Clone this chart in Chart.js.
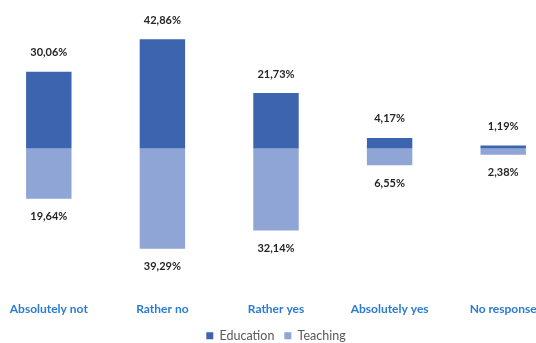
<!DOCTYPE html>
<html>
<head>
<meta charset="utf-8">
<script src="https://cdn.jsdelivr.net/npm/chart.js@4.4.1/dist/chart.umd.min.js"></script>
<style>
  html, body { margin: 0; padding: 0; background: #ffffff; overflow: hidden; }
  #wrap { position: absolute; left: -8px; top: 0; width: 568px; height: 343px; }
</style>
</head>
<body>
<div id="wrap"><canvas id="chart"></canvas></div>
<script>
// Answer categories along the horizontal axis
const categories = ['Absolutely not', 'Rather no', 'Rather yes', 'Absolutely yes', 'No response'];
// Share of respondents (%) per group
const education = [30.06, 42.86, 21.73, 4.17, 1.19];
const teaching = [19.64, 39.29, 32.14, 6.55, 2.38];

const fmt = v => v.toFixed(2).replace('.', ',') + '%';

// Education grows upward from zero, Teaching downward
const valueLabels = {
  id: 'valueLabels',
  afterDatasetsDraw(chart) {
    const ctx = chart.ctx;
    ctx.save();
    ctx.font = 'bold 11px Lato, "Open Sans", sans-serif';
    ctx.fillStyle = '#262626';
    ctx.textAlign = 'center';
    ctx.textBaseline = 'middle';
    chart.data.datasets.forEach((ds, di) => {
      const meta = chart.getDatasetMeta(di);
      meta.data.forEach((bar, i) => {
        const v = Math.abs(ds.data[i]);
        const y = ds.data[i] >= 0 ? bar.y - 19 : bar.y + 18;
        ctx.fillText(fmt(v), bar.x, y);
      });
    });
    ctx.restore();
  }
};

new Chart(document.getElementById('chart'), {
  type: 'bar',
  data: {
    labels: categories,
    datasets: [
      { label: 'Education', data: education, backgroundColor: '#3d64ae' },
      { label: 'Teaching', data: teaching.map(v => -v), backgroundColor: '#8fa5d6' }
    ]
  },
  options: {
    responsive: true,
    maintainAspectRatio: false,
    animation: false,
    categoryPercentage: 0.4,
    barPercentage: 1,
    layout: { padding: { top: 0, bottom: -9, left: 0, right: 0 } },
    scales: {
      x: {
        stacked: true,
        grid: { display: false, drawTicks: false },
        border: { display: false },
        ticks: {
          color: '#2a7bd1',
          font: { family: 'Lato, "Open Sans", sans-serif', size: 12, weight: 'bold' },
          padding: 12
        },
        // tighten the gap between category names and the legend
        afterFit: scale => { scale.height -= 9; }
      },
      y: {
        stacked: true,
        display: false,
        min: -55.45,
        max: 58.2
      }
    },
    plugins: {
      legend: {
        position: 'bottom',
        labels: {
          boxWidth: 7,
          boxHeight: 7,
          color: '#595959',
          padding: 10,
          font: { family: 'Lato, "Open Sans", sans-serif', size: 12.5 }
        }
      },
      tooltip: { enabled: false }
    }
  },
  plugins: [valueLabels]
});
</script>
</body>
</html>
